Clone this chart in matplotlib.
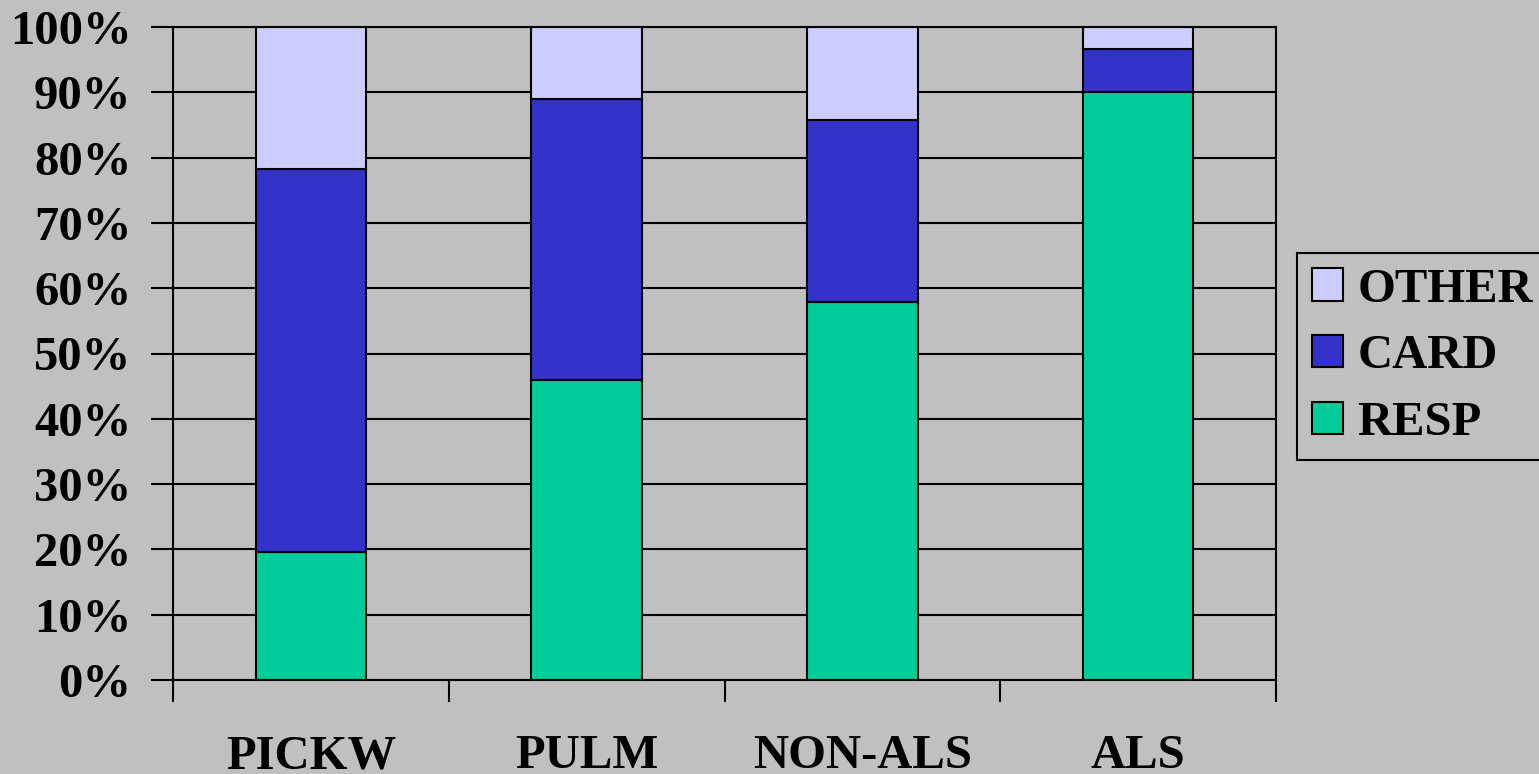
import matplotlib.pyplot as plt
import numpy as np

# Datos: porcentaje por grupo
grupos = ["PICKW", "PULM", "NON-ALS", "ALS"]
resp = [19.6, 46.0, 57.9, 90.1]
card = [58.6, 42.9, 27.9, 6.5]
other = [21.8, 11.1, 14.2, 3.4]

color_resp = "#00CC99"
color_card = "#3333CC"
color_other = "#CCCCFF"
fondo = "#C0C0C0"

plt.rcParams["font.family"] = ["Liberation Serif", "DejaVu Serif"]
plt.rcParams["font.weight"] = "bold"
tam = 35

fig = plt.figure(figsize=(15.39, 7.74), dpi=100, facecolor=fondo)
ax = fig.add_axes([173 / 1539, 1 - 680 / 774, 1103 / 1539, 653 / 774])
ax.set_facecolor(fondo)

x = np.arange(len(grupos))
lw = 1.5
b1 = ax.bar(x, resp, width=0.4, color=color_resp, edgecolor="black", linewidth=lw, label="RESP")
b2 = ax.bar(x, card, width=0.4, bottom=resp, color=color_card, edgecolor="black", linewidth=lw, label="CARD")
base = np.array(resp) + np.array(card)
b3 = ax.bar(x, other, width=0.4, bottom=base, color=color_other, edgecolor="black", linewidth=lw, label="OTHER")

ax.set_xlim(-0.5, len(grupos) - 0.5)
ax.set_ylim(0, 100)

# eje y con lineas de cuadricula negras
ax.set_yticks(np.arange(0, 101, 10))
ax.set_yticklabels([f"{v}%" for v in range(0, 101, 10)], fontsize=tam, fontweight="bold")
ax.yaxis.grid(True, color="black", linewidth=lw)
ax.set_axisbelow(True)
ax.tick_params(axis="y", direction="out", length=16, width=lw, pad=14)

# marcas en los limites de categoria, etiquetas en el centro
ax.set_xticks(np.arange(-0.5, len(grupos), 1.0))
ax.set_xticklabels([])
ax.set_xticks(x, minor=True)
ax.set_xticklabels(grupos, minor=True, fontsize=tam, fontweight="bold")
ax.tick_params(axis="x", which="major", direction="out", length=16, width=lw)
ax.tick_params(axis="x", which="minor", length=0, pad=39)

for s in ax.spines.values():
    s.set_color("black")
    s.set_linewidth(lw)

leg = fig.legend(handles=[b3, b2, b1], labels=["OTHER", "CARD", "RESP"],
                 loc="upper left", bbox_to_anchor=(1297 / 1539, 1 - 253 / 774),
                 borderaxespad=0, fancybox=False, framealpha=1, facecolor=fondo,
                 edgecolor="black", prop={"size": tam, "weight": "bold"},
                 handlelength=0.64, handleheight=0.64, handletextpad=0.3,
                 labelspacing=0.47, borderpad=0.3)
leg.get_frame().set_linewidth(lw)

fig.savefig("out.png", dpi=100, facecolor=fondo)
